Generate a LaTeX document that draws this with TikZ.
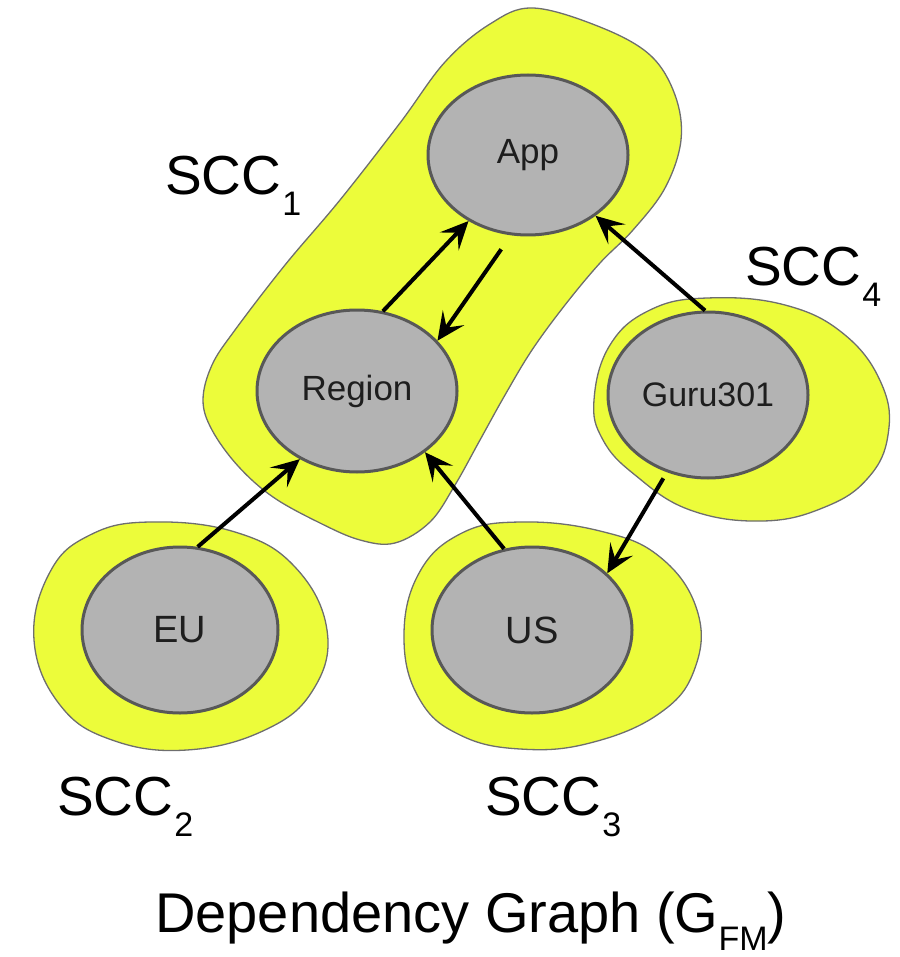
\documentclass[tikz,border=0pt]{standalone}
\usepackage{fontspec}
\setmainfont{Liberation Sans}
\usetikzlibrary{shapes.geometric,arrows.meta}

\definecolor{blobyellow}{RGB}{236,252,58}
\definecolor{blobedge}{RGB}{110,110,110}
\definecolor{nodefill}{RGB}{179,179,179}
\definecolor{nodeedge}{RGB}{88,88,88}
\definecolor{textdark}{RGB}{30,30,30}

\newcommand\sccname[1]{SCC\kern1pt\raisebox{-21pt}{\fontsize{34}{34}\selectfont #1}}

\tikzset{
  blob/.style={fill=blobyellow, draw=blobedge, line width=1.3pt},
  comp/.style={ellipse, fill=nodefill, draw=nodeedge, line width=3pt,
    minimum width=200pt, minimum height=166pt, inner sep=0pt,
    text=textdark, font=\fontsize{35}{40}\selectfont},
  dep/.style={draw=black, line width=4pt,
    -{Stealth[length=28pt, width=26pt, inset=12pt]}},
  scclabel/.style={anchor=base west, inner sep=0pt,
    font=\fontsize{55}{60}\selectfont},
}

\begin{document}
\begin{tikzpicture}[x=1pt, y=-1pt]
\useasboundingbox (0,0) rectangle (899,957);

% strongly connected components
\draw[blob] plot[smooth cycle, tension=0.6] coordinates {
  (533,8) (600,27) (650,55) (675,95) (681,140) (665,188) (633,230)
  (600,263) (565,305) (532,350) (505,395) (480,440) (455,485) (430,522)
  (395,543) (360,540) (320,523) (273,497) (238,466) (212,430) (203,400)
  (212,365) (235,330) (285,265) (340,200) (400,123) (445,62) (490,24)};
\draw[blob] plot[smooth cycle, tension=0.7] coordinates {
  (150,522) (235,532) (295,567) (327,630) (313,690) (265,730) (187,750)
  (112,740) (60,705) (34,640) (50,572) (90,535)};
\draw[blob] plot[smooth cycle, tension=0.7] coordinates {
  (520,522) (600,531) (660,557) (697,610) (695,668) (660,713) (590,743)
  (520,749) (460,735) (420,700) (404,640) (418,575) (460,534)};
\draw[blob] plot[smooth cycle, tension=0.7] coordinates {
  (707,298) (785,305) (845,335) (882,385) (888,435) (868,478) (825,507)
  (763,521) (690,510) (635,475) (603,440) (594,400) (610,345) (650,310)};

% components
\node[comp, minimum height=160pt] (app) at (528,155) {App};
\node[comp, minimum height=162pt] (region) at (357,391) {Region};
\node[comp, font=\fontsize{34}{40}\selectfont] (guru) at (708,395) {Guru301};
\node[comp, minimum width=196pt, font=\fontsize{38}{42}\selectfont] (eu) at (180,630) {EU};
\node[comp, font=\fontsize{38}{42}\selectfont] (us) at (532,630) {US};

% dependencies
\draw[dep] (region.72) -- (app.228);
\draw[dep, shorten <=17pt] (app.258) -- (region.32);
\draw[dep] (guru.92) -- (app.318);
\draw[dep] (eu.78) -- (region.230);
\draw[dep] (us.109) -- (region.318);
\draw[dep, shorten <=7pt] (guru.242) -- (us.37);

% labels
\node[scclabel] (l1) at (165,195) {\sccname{1}};
\node[scclabel] (l4) at (745,285) {\sccname{4}};
\node[scclabel] (l2) at (57,815) {\sccname{2}};
\node[scclabel] (l3) at (485,815) {\sccname{3}};
\node[scclabel, font=\fontsize{56}{60}\selectfont] (title) at (155,932)
  {Dependency Graph (G\raisebox{-18pt}{\fontsize{34}{34}\selectfont FM})};
\end{tikzpicture}
\end{document}
